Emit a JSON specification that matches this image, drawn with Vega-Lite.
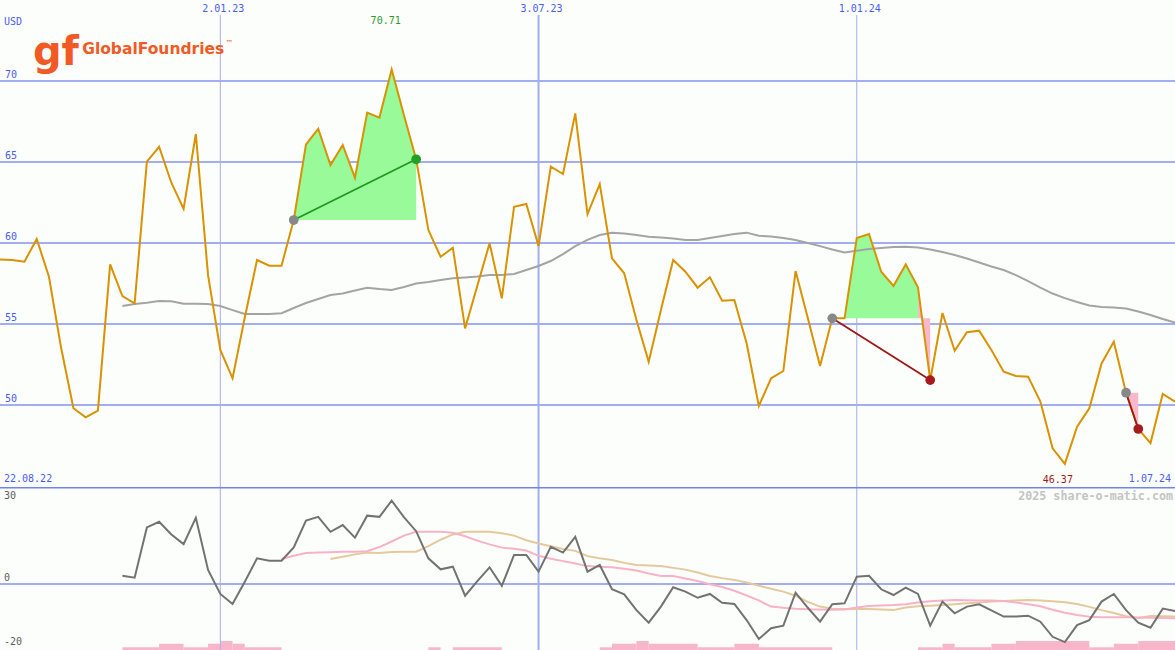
{
"$schema": "https://vega.github.io/schema/vega-lite/v6.json",
"background": "#fcfefc",
"padding": 0,
"spacing": 0,
"bounds": "flush",
"config": {"view": {"stroke": null}, "concat": {"spacing": 0}},
"datasets": {
"w": [
{"d":"2022-08-29","close":58.99},
{"d":"2022-09-05","close":58.95},
{"d":"2022-09-12","close":58.85},
{"d":"2022-09-19","close":60.25},
{"d":"2022-09-26","close":57.92},
{"d":"2022-10-03","close":53.5},
{"d":"2022-10-10","close":49.8},
{"d":"2022-10-17","close":49.24},
{"d":"2022-10-24","close":49.65},
{"d":"2022-10-31","close":58.68},
{"d":"2022-11-07","close":56.73,"ma":56.11,"osc":2.8},
{"d":"2022-11-14","close":56.28,"ma":56.23,"osc":2.15},
{"d":"2022-11-21","close":65.02,"ma":56.31,"osc":19.3},
{"d":"2022-11-28","close":65.94,"ma":56.42,"osc":21.2},
{"d":"2022-12-05","close":63.72,"ma":56.4,"osc":16.9},
{"d":"2022-12-12","close":62.1,"ma":56.25,"osc":13.6},
{"d":"2022-12-19","close":66.73,"ma":56.25,"osc":22.6},
{"d":"2022-12-26","close":58.0,"ma":56.23,"osc":4.8},
{"d":"2023-01-02","close":53.4,"ma":56.11,"osc":-3.4},
{"d":"2023-01-09","close":51.65,"ma":55.86,"osc":-6.8},
{"d":"2023-01-16","close":55.4,"ma":55.62,"osc":0.8},
{"d":"2023-01-23","close":58.95,"ma":55.62,"osc":8.75},
{"d":"2023-01-30","close":58.6,"ma":55.62,"osc":7.95},
{"d":"2023-02-06","close":58.6,"ma":55.67,"osc":7.95,"s1":8.5},
{"d":"2023-02-13","close":61.42,"ma":55.99,"osc":12.5,"s1":9.65},
{"d":"2023-02-20","close":66.09,"ma":56.3,"osc":21.6,"s1":10.6},
{"d":"2023-02-27","close":67.05,"ma":56.54,"osc":22.9,"s1":10.7},
{"d":"2023-03-06","close":64.81,"ma":56.79,"osc":17.8,"s1":10.85,"s2":8.5},
{"d":"2023-03-13","close":66.05,"ma":56.88,"osc":20.1,"s1":11.0,"s2":9.3},
{"d":"2023-03-20","close":64.03,"ma":57.07,"osc":15.8,"s1":11.0,"s2":10.1},
{"d":"2023-03-27","close":68.05,"ma":57.24,"osc":23.3,"s1":11.2,"s2":10.7},
{"d":"2023-04-03","close":67.74,"ma":57.16,"osc":22.9,"s1":12.6,"s2":10.6},
{"d":"2023-04-10","close":70.71,"ma":57.1,"osc":28.4,"s1":14.5,"s2":10.9},
{"d":"2023-04-17","close":67.9,"ma":57.28,"osc":22.8,"s1":16.5,"s2":11.0},
{"d":"2023-04-24","close":65.17,"ma":57.5,"osc":18.0,"s1":17.8,"s2":11.0},
{"d":"2023-05-01","close":60.8,"ma":57.59,"osc":8.75,"s1":17.8,"s2":12.9},
{"d":"2023-05-08","close":59.15,"ma":57.72,"osc":5.0,"s1":17.8,"s2":15.1},
{"d":"2023-05-15","close":59.71,"ma":57.82,"osc":5.9,"s1":17.5,"s2":16.9},
{"d":"2023-05-22","close":54.73,"ma":57.87,"osc":-4.0,"s1":16.3,"s2":17.8},
{"d":"2023-05-29","close":57.36,"ma":57.93,"osc":1.0,"s1":14.8,"s2":17.8},
{"d":"2023-06-05","close":59.98,"ma":58.02,"osc":5.7,"s1":13.5,"s2":17.8},
{"d":"2023-06-12","close":56.59,"ma":58.02,"osc":-0.6,"s1":12.4,"s2":17.3},
{"d":"2023-06-19","close":62.24,"ma":58.09,"osc":9.9,"s1":12.0,"s2":16.5},
{"d":"2023-06-26","close":62.41,"ma":58.33,"osc":9.9,"s1":11.4,"s2":14.9},
{"d":"2023-07-03","close":59.81,"ma":58.58,"osc":4.2,"s1":9.6,"s2":13.8},
{"d":"2023-07-10","close":64.71,"ma":58.89,"osc":12.7,"s1":8.6,"s2":12.9},
{"d":"2023-07-17","close":64.26,"ma":59.32,"osc":10.7,"s1":7.8,"s2":11.9},
{"d":"2023-07-24","close":68.0,"ma":59.81,"osc":16.1,"s1":7.0,"s2":11.3},
{"d":"2023-07-31","close":61.79,"ma":60.19,"osc":4.2,"s1":6.1,"s2":9.5},
{"d":"2023-08-07","close":63.63,"ma":60.49,"osc":6.5,"s1":5.9,"s2":8.8},
{"d":"2023-08-14","close":59.05,"ma":60.64,"osc":-1.8,"s1":5.7,"s2":8.2},
{"d":"2023-08-21","close":58.13,"ma":60.59,"osc":-3.5,"s1":5.2,"s2":7.2},
{"d":"2023-08-28","close":55.25,"ma":60.49,"osc":-8.9,"s1":4.6,"s2":6.45},
{"d":"2023-09-04","close":52.67,"ma":60.39,"osc":-13.2,"s1":3.6,"s2":6.3},
{"d":"2023-09-11","close":55.86,"ma":60.34,"osc":-7.7,"s1":2.7,"s2":6.1},
{"d":"2023-09-18","close":58.95,"ma":60.28,"osc":-1.1,"s1":2.7,"s2":5.5},
{"d":"2023-09-25","close":58.23,"ma":60.19,"osc":-2.6,"s1":1.9,"s2":4.9},
{"d":"2023-10-02","close":57.24,"ma":60.19,"osc":-4.7,"s1":1.0,"s2":3.9},
{"d":"2023-10-09","close":57.88,"ma":60.31,"osc":-3.4,"s1":-0.1,"s2":2.7},
{"d":"2023-10-16","close":56.44,"ma":60.43,"osc":-6.4,"s1":-1.0,"s2":2.0},
{"d":"2023-10-23","close":56.48,"ma":60.56,"osc":-6.8,"s1":-2.3,"s2":1.4},
{"d":"2023-10-30","close":53.81,"ma":60.64,"osc":-12.3,"s1":-3.9,"s2":0.5},
{"d":"2023-11-06","close":49.94,"ma":60.45,"osc":-18.75,"s1":-5.6,"s2":-0.6},
{"d":"2023-11-13","close":51.65,"ma":60.4,"osc":-15.1,"s1":-7.7,"s2":-1.6},
{"d":"2023-11-20","close":52.1,"ma":60.31,"osc":-14.2,"s1":-8.1,"s2":-2.6},
{"d":"2023-11-27","close":58.27,"ma":60.19,"osc":-2.95,"s1":-8.4,"s2":-4.0},
{"d":"2023-12-04","close":55.37,"ma":60.0,"osc":-8.1,"s1":-8.6,"s2":-6.1},
{"d":"2023-12-11","close":52.41,"ma":59.81,"osc":-12.85,"s1":-8.7,"s2":-7.7},
{"d":"2023-12-18","close":55.35,"ma":59.6,"osc":-6.9,"s1":-8.8,"s2":-8.4},
{"d":"2023-12-25","close":55.35,"ma":59.41,"osc":-6.6,"s1":-8.7,"s2":-8.5},
{"d":"2024-01-01","close":60.31,"ma":59.52,"osc":2.5,"s1":-8.0,"s2":-8.5},
{"d":"2024-01-08","close":60.56,"ma":59.63,"osc":2.8,"s1":-7.5,"s2":-8.5},
{"d":"2024-01-15","close":58.23,"ma":59.69,"osc":-1.8,"s1":-7.3,"s2":-8.7},
{"d":"2024-01-22","close":57.35,"ma":59.75,"osc":-3.75,"s1":-7.2,"s2":-8.9},
{"d":"2024-01-29","close":58.68,"ma":59.77,"osc":-1.25,"s1":-6.9,"s2":-8.0},
{"d":"2024-02-05","close":57.27,"ma":59.72,"osc":-3.4,"s1":-6.3,"s2":-7.6},
{"d":"2024-02-12","close":51.54,"ma":59.6,"osc":-14.2,"s1":-5.9,"s2":-7.4},
{"d":"2024-02-19","close":55.68,"ma":59.44,"osc":-6.0,"s1":-5.6,"s2":-7.2},
{"d":"2024-02-26","close":53.35,"ma":59.26,"osc":-10.0,"s1":-5.45,"s2":-6.9},
{"d":"2024-03-04","close":54.49,"ma":59.04,"osc":-7.7,"s1":-5.5,"s2":-6.6},
{"d":"2024-03-11","close":54.59,"ma":58.8,"osc":-6.9,"s1":-5.6,"s2":-6.3},
{"d":"2024-03-18","close":53.4,"ma":58.55,"osc":-9.0,"s1":-5.6,"s2":-6.0},
{"d":"2024-03-25","close":52.06,"ma":58.33,"osc":-11.1,"s1":-5.8,"s2":-5.8},
{"d":"2024-04-01","close":51.79,"ma":58.02,"osc":-11.1,"s1":-6.3,"s2":-5.6},
{"d":"2024-04-08","close":51.75,"ma":57.65,"osc":-10.8,"s1":-6.9,"s2":-5.45},
{"d":"2024-04-15","close":50.21,"ma":57.25,"osc":-12.85,"s1":-7.6,"s2":-5.6},
{"d":"2024-04-22","close":47.33,"ma":56.88,"osc":-18.0,"s1":-8.8,"s2":-5.9},
{"d":"2024-04-29","close":46.37,"ma":56.6,"osc":-19.8,"s1":-9.8,"s2":-6.2},
{"d":"2024-05-06","close":48.67,"ma":56.36,"osc":-14.0,"s1":-10.6,"s2":-6.8},
{"d":"2024-05-13","close":49.8,"ma":56.14,"osc":-12.3,"s1":-11.2,"s2":-7.8},
{"d":"2024-05-20","close":52.57,"ma":56.05,"osc":-6.0,"s1":-11.35,"s2":-8.9},
{"d":"2024-05-27","close":53.91,"ma":56.02,"osc":-3.4,"s1":-11.35,"s2":-9.9},
{"d":"2024-06-03","close":50.76,"ma":55.96,"osc":-8.9,"s1":-11.35,"s2":-11.0},
{"d":"2024-06-10","close":48.52,"ma":55.77,"osc":-13.2,"s1":-11.4,"s2":-11.6},
{"d":"2024-06-17","close":47.65,"ma":55.56,"osc":-14.9,"s1":-11.5,"s2":-10.9},
{"d":"2024-06-24","close":50.69,"ma":55.31,"osc":-8.4,"s1":-11.6,"s2":-11.0},
{"d":"2024-07-01","close":50.21,"ma":55.09,"osc":-9.2,"s1":-11.7,"s2":-11.1}
],
"areas": [
{"d":"2023-02-13","p":61.42,"base":61.42,"seg":"A","kind":"gain"},
{"d":"2023-02-20","p":66.09,"base":61.42,"seg":"A","kind":"gain"},
{"d":"2023-02-27","p":67.05,"base":61.42,"seg":"A","kind":"gain"},
{"d":"2023-03-06","p":64.81,"base":61.42,"seg":"A","kind":"gain"},
{"d":"2023-03-13","p":66.05,"base":61.42,"seg":"A","kind":"gain"},
{"d":"2023-03-20","p":64.03,"base":61.42,"seg":"A","kind":"gain"},
{"d":"2023-03-27","p":68.05,"base":61.42,"seg":"A","kind":"gain"},
{"d":"2023-04-03","p":67.74,"base":61.42,"seg":"A","kind":"gain"},
{"d":"2023-04-10","p":70.71,"base":61.42,"seg":"A","kind":"gain"},
{"d":"2023-04-17","p":67.9,"base":61.42,"seg":"A","kind":"gain"},
{"d":"2023-04-24","p":65.17,"base":61.42,"seg":"A","kind":"gain"},
{"d":"2023-12-18","p":55.35,"base":55.35,"seg":"B","kind":"gain"},
{"d":"2023-12-25","p":55.35,"base":55.35,"seg":"B","kind":"gain"},
{"d":"2024-01-01","p":60.31,"base":55.35,"seg":"B","kind":"gain"},
{"d":"2024-01-08","p":60.56,"base":55.35,"seg":"B","kind":"gain"},
{"d":"2024-01-15","p":58.23,"base":55.35,"seg":"B","kind":"gain"},
{"d":"2024-01-22","p":57.35,"base":55.35,"seg":"B","kind":"gain"},
{"d":"2024-01-29","p":58.68,"base":55.35,"seg":"B","kind":"gain"},
{"d":"2024-02-05","p":57.27,"base":55.35,"seg":"B","kind":"gain"},
{"d":"2024-02-05","p":57.27,"base":55.35,"seg":"C","kind":"loss"},
{"d":"2024-02-12","p":51.54,"base":55.35,"seg":"C","kind":"loss"},
{"d":"2024-06-03","p":50.76,"base":50.76,"seg":"D","kind":"loss"},
{"d":"2024-06-10","p":48.52,"base":50.76,"seg":"D","kind":"loss"}
],
"signals": [
{"d":"2023-02-13","p":61.42,"seg":"A","kind":"gain"},
{"d":"2023-04-24","p":65.17,"seg":"A","kind":"gain"},
{"d":"2023-12-18","p":55.35,"seg":"B","kind":"loss"},
{"d":"2024-02-12","p":51.54,"seg":"B","kind":"loss"},
{"d":"2024-06-03","p":50.76,"seg":"D","kind":"loss"},
{"d":"2024-06-10","p":48.52,"seg":"D","kind":"loss"}
],
"markers": [
{"d":"2023-02-13","p":61.42,"kind":"start"},
{"d":"2023-04-24","p":65.17,"kind":"gain"},
{"d":"2023-12-18","p":55.35,"kind":"start"},
{"d":"2024-02-12","p":51.54,"kind":"loss"},
{"d":"2024-06-03","p":50.76,"kind":"start"},
{"d":"2024-06-10","p":48.52,"kind":"loss"}
],
"bars": [
{"d":"2022-11-07","e":"2022-11-28","h":1},
{"d":"2022-11-28","e":"2022-12-12","h":2.33},
{"d":"2022-12-12","e":"2022-12-26","h":1},
{"d":"2022-12-26","e":"2023-01-02","h":2.33},
{"d":"2023-01-02","e":"2023-01-09","h":3.33},
{"d":"2023-01-09","e":"2023-01-16","h":2.33},
{"d":"2023-01-16","e":"2023-02-06","h":1},
{"d":"2023-05-01","e":"2023-05-08","h":1},
{"d":"2023-05-15","e":"2023-06-12","h":1},
{"d":"2023-08-07","e":"2023-08-14","h":1},
{"d":"2023-08-14","e":"2023-08-28","h":2.33},
{"d":"2023-08-28","e":"2023-09-04","h":3.33},
{"d":"2023-09-04","e":"2023-10-02","h":2.33},
{"d":"2023-10-02","e":"2023-10-23","h":1},
{"d":"2023-10-23","e":"2023-11-06","h":2.33},
{"d":"2023-11-06","e":"2023-12-18","h":1},
{"d":"2024-02-05","e":"2024-02-19","h":1},
{"d":"2024-02-19","e":"2024-02-26","h":2.33},
{"d":"2024-02-26","e":"2024-03-18","h":1},
{"d":"2024-03-18","e":"2024-04-01","h":2.33},
{"d":"2024-04-01","e":"2024-05-13","h":3.33},
{"d":"2024-05-13","e":"2024-05-27","h":1},
{"d":"2024-05-27","e":"2024-06-10","h":2.33},
{"d":"2024-06-10","e":"2024-07-01","h":3.33}
],
"hgrid": [{"v":50},{"v":55},{"v":60},{"v":65},{"v":70}],
"ylabels": [{"d":"2022-08-29","t":"50","v":50},{"d":"2022-08-29","t":"55","v":55},{"d":"2022-08-29","t":"60","v":60},{"d":"2022-08-29","t":"65","v":65},{"d":"2022-08-29","t":"70","v":70}],
"vthin": [{"d":"2023-01-02"},{"d":"2024-01-01"}],
"vthick": [{"d":"2023-07-03"}],
"dates": [{"d":"2023-01-02","t":"2.01.23"},{"d":"2023-07-03","t":"3.07.23"},{"d":"2024-01-01","t":"1.01.24"}]
},
"vconcat": [
{
"width": 1175, "height": 487,
"resolve": {"scale": {"color": "independent"}},
"layer": [
{"data":{"name":"hgrid"},"mark":{"type":"rule","color":"#a3aef0","strokeWidth":2,"clip":true},
 "encoding":{"y":{"field":"v","type":"quantitative","scale":{"domain":[44.94,75],"nice":false,"zero":false},"axis":null}}},
{"data":{"name":"vthin"},"mark":{"type":"rule","color":"#a6aee8","strokeWidth":1,"clip":true},
 "encoding":{"x":{"field":"d","type":"temporal","scale":{"type":"utc","domain":[{"year":2022,"month":8,"date":29,"utc":true},{"year":2024,"month":7,"date":1,"utc":true}]},"axis":null},
 "y":{"datum":74.07,"type":"quantitative","scale":{"domain":[44.94,75],"nice":false,"zero":false},"axis":null},"y2":{"datum":44.94}}},
{"data":{"name":"vthick"},"mark":{"type":"rule","color":"#a3aef0","strokeWidth":2,"clip":true},
 "encoding":{"x":{"field":"d","type":"temporal","scale":{"type":"utc","domain":[{"year":2022,"month":8,"date":29,"utc":true},{"year":2024,"month":7,"date":1,"utc":true}]},"axis":null},
 "y":{"datum":74.07,"type":"quantitative","scale":{"domain":[44.94,75],"nice":false,"zero":false},"axis":null},"y2":{"datum":44.94}}},
{"data":{"name":"areas"},"mark":{"type":"area","opacity":1,"clip":true},
 "encoding":{"x":{"field":"d","type":"temporal","scale":{"type":"utc","domain":[{"year":2022,"month":8,"date":29,"utc":true},{"year":2024,"month":7,"date":1,"utc":true}]},"axis":null},
 "y":{"field":"p","type":"quantitative","stack":null,"scale":{"domain":[44.94,75],"nice":false,"zero":false},"axis":null},"y2":{"field":"base"},
 "color":{"field":"kind","type":"nominal","scale":{"domain":["gain","loss"],"range":["#98fa98","#f8b8cc"]},"legend":null},
 "detail":{"field":"seg"}}},
{"data":{"name":"w"},"mark":{"type":"line","color":"#a4a4a4","strokeWidth":2,"clip":true},
 "encoding":{"x":{"field":"d","type":"temporal","scale":{"type":"utc","domain":[{"year":2022,"month":8,"date":29,"utc":true},{"year":2024,"month":7,"date":1,"utc":true}]},"axis":null},
 "y":{"field":"ma","type":"quantitative","scale":{"domain":[44.94,75],"nice":false,"zero":false},"axis":null}}},
{"data":{"name":"w"},"mark":{"type":"line","color":"#d99200","strokeWidth":2,"clip":true},
 "encoding":{"x":{"field":"d","type":"temporal","scale":{"type":"utc","domain":[{"year":2022,"month":8,"date":29,"utc":true},{"year":2024,"month":7,"date":1,"utc":true}]},"axis":null},
 "y":{"field":"close","type":"quantitative","scale":{"domain":[44.94,75],"nice":false,"zero":false},"axis":null}}},
{"data":{"name":"signals"},"mark":{"type":"line","strokeWidth":1.8,"clip":true},
 "encoding":{"x":{"field":"d","type":"temporal","scale":{"type":"utc","domain":[{"year":2022,"month":8,"date":29,"utc":true},{"year":2024,"month":7,"date":1,"utc":true}]},"axis":null},
 "y":{"field":"p","type":"quantitative","scale":{"domain":[44.94,75],"nice":false,"zero":false},"axis":null},
 "color":{"field":"kind","type":"nominal","scale":{"domain":["gain","loss"],"range":["#1e9a1e","#9e1616"]},"legend":null},
 "detail":{"field":"seg"}}},
{"data":{"name":"markers"},"mark":{"type":"circle","size":95,"opacity":1},
 "encoding":{"x":{"field":"d","type":"temporal","scale":{"type":"utc","domain":[{"year":2022,"month":8,"date":29,"utc":true},{"year":2024,"month":7,"date":1,"utc":true}]},"axis":null},
 "y":{"field":"p","type":"quantitative","scale":{"domain":[44.94,75],"nice":false,"zero":false},"axis":null},
 "color":{"field":"kind","type":"nominal","scale":{"domain":["start","gain","loss"],"range":["#888888","#22a022","#a51a1a"]},"legend":null}}},
{"data":{"name":"ylabels"},"mark":{"type":"text","align":"left","baseline":"alphabetic","dx":5,"dy":-3,"font":"DejaVu Sans Mono","fontSize":10,"color":"#4a5cf5"},
 "encoding":{"x":{"field":"d","type":"temporal","scale":{"type":"utc","domain":[{"year":2022,"month":8,"date":29,"utc":true},{"year":2024,"month":7,"date":1,"utc":true}]},"axis":null},
 "y":{"field":"v","type":"quantitative","scale":{"domain":[44.94,75],"nice":false,"zero":false},"axis":null},"text":{"field":"t"}}},
{"data":{"name":"dates"},"mark":{"type":"text","align":"center","baseline":"middle","dx":3,"font":"DejaVu Sans Mono","fontSize":10,"color":"#4a5cf5"},
 "encoding":{"x":{"field":"d","type":"temporal","scale":{"type":"utc","domain":[{"year":2022,"month":8,"date":29,"utc":true},{"year":2024,"month":7,"date":1,"utc":true}]},"axis":null},
 "y":{"datum":74.46,"type":"quantitative","scale":{"domain":[44.94,75],"nice":false,"zero":false},"axis":null},"text":{"field":"t"}}},
{"data":{"values":[{"d":"2022-08-29","t":"USD","p":73.66},{"d":"2022-08-29","t":"22.08.22","p":45.44}]},
 "mark":{"type":"text","align":"left","baseline":"middle","dx":4,"font":"DejaVu Sans Mono","fontSize":10,"color":"#4a5cf5"},
 "encoding":{"x":{"field":"d","type":"temporal","scale":{"type":"utc","domain":[{"year":2022,"month":8,"date":29,"utc":true},{"year":2024,"month":7,"date":1,"utc":true}]},"axis":null},
 "y":{"field":"p","type":"quantitative","scale":{"domain":[44.94,75],"nice":false,"zero":false},"axis":null},"text":{"field":"t"}}},
{"data":{"values":[{"d":"2024-07-01","t":"1.07.24","p":45.44}]},
 "mark":{"type":"text","align":"right","baseline":"middle","dx":-4,"font":"DejaVu Sans Mono","fontSize":10,"color":"#4a5cf5"},
 "encoding":{"x":{"field":"d","type":"temporal","scale":{"type":"utc","domain":[{"year":2022,"month":8,"date":29,"utc":true},{"year":2024,"month":7,"date":1,"utc":true}]},"axis":null},
 "y":{"field":"p","type":"quantitative","scale":{"domain":[44.94,75],"nice":false,"zero":false},"axis":null},"text":{"field":"t"}}},
{"data":{"values":[{"d":"2023-04-10","t":"70.71","p":73.73}]},
 "mark":{"type":"text","align":"center","baseline":"middle","dx":-6,"font":"DejaVu Sans Mono","fontSize":10,"color":"#2a9a2a"},
 "encoding":{"x":{"field":"d","type":"temporal","scale":{"type":"utc","domain":[{"year":2022,"month":8,"date":29,"utc":true},{"year":2024,"month":7,"date":1,"utc":true}]},"axis":null},
 "y":{"field":"p","type":"quantitative","scale":{"domain":[44.94,75],"nice":false,"zero":false},"axis":null},"text":{"field":"t"}}},
{"data":{"values":[{"d":"2024-04-29","t":"46.37","p":45.4}]},
 "mark":{"type":"text","align":"center","baseline":"middle","dx":-7,"font":"DejaVu Sans Mono","fontSize":10,"color":"#a01c1c"},
 "encoding":{"x":{"field":"d","type":"temporal","scale":{"type":"utc","domain":[{"year":2022,"month":8,"date":29,"utc":true},{"year":2024,"month":7,"date":1,"utc":true}]},"axis":null},
 "y":{"field":"p","type":"quantitative","scale":{"domain":[44.94,75],"nice":false,"zero":false},"axis":null},"text":{"field":"t"}}},
{"data":{"values":[{"d":"2022-10-15","t":"GlobalFoundries","p":71.67}]},
 "mark":{"type":"text","align":"left","baseline":"alphabetic","font":"DejaVu Sans","fontWeight":"bold","fontSize":15.5,"color":"#f15a24"},
 "encoding":{"x":{"field":"d","type":"temporal","scale":{"type":"utc","domain":[{"year":2022,"month":8,"date":29,"utc":true},{"year":2024,"month":7,"date":1,"utc":true}]},"axis":null},
 "y":{"field":"p","type":"quantitative","scale":{"domain":[44.94,75],"nice":false,"zero":false},"axis":null},"text":{"field":"t"}}},
{"data":{"values":[{"d":"2023-01-05","t":"™","p":72.28}]},
 "mark":{"type":"text","align":"left","baseline":"middle","font":"DejaVu Sans","fontSize":8,"color":"#f15a24"},
 "encoding":{"x":{"field":"d","type":"temporal","scale":{"type":"utc","domain":[{"year":2022,"month":8,"date":29,"utc":true},{"year":2024,"month":7,"date":1,"utc":true}]},"axis":null},
 "y":{"field":"p","type":"quantitative","scale":{"domain":[44.94,75],"nice":false,"zero":false},"axis":null},"text":{"field":"t"}}},
{"data":{"values":[{"d":"2022-09-30","t":"gf","p":71.73}]},
 "mark":{"type":"text","align":"center","baseline":"middle","font":"DejaVu Sans","fontWeight":"bold","fontSize":40,"letterSpacing":-3,"color":"#f15a24"},
 "encoding":{"x":{"field":"d","type":"temporal","scale":{"type":"utc","domain":[{"year":2022,"month":8,"date":29,"utc":true},{"year":2024,"month":7,"date":1,"utc":true}]},"axis":null},
 "y":{"field":"p","type":"quantitative","scale":{"domain":[44.94,75],"nice":false,"zero":false},"axis":null},"text":{"field":"t"}}}
]
},
{
"width": 1175, "height": 163,
"resolve": {"scale": {"y": "independent"}},
"layer": [
{"data":{"name":"bars"},"mark":{"type":"rect","color":"#f8b6ca","clip":true},
 "encoding":{"x":{"field":"d","type":"temporal","scale":{"type":"utc","domain":[{"year":2022,"month":8,"date":29,"utc":true},{"year":2024,"month":7,"date":1,"utc":true}]},"axis":null},
 "x2":{"field":"e"},
 "y":{"field":"h","type":"quantitative","scale":{"domain":[0,60.4],"nice":false,"zero":true},"axis":null},"y2":{"datum":0}}},
{"layer": [
{"data":{"name":"vthin"},"mark":{"type":"rule","color":"#a6aee8","strokeWidth":1,"clip":true},
 "encoding":{"x":{"field":"d","type":"temporal","scale":{"type":"utc","domain":[{"year":2022,"month":8,"date":29,"utc":true},{"year":2024,"month":7,"date":1,"utc":true}]},"axis":null}}},
{"data":{"name":"vthick"},"mark":{"type":"rule","color":"#a3aef0","strokeWidth":2,"clip":true},
 "encoding":{"x":{"field":"d","type":"temporal","scale":{"type":"utc","domain":[{"year":2022,"month":8,"date":29,"utc":true},{"year":2024,"month":7,"date":1,"utc":true}]},"axis":null}}},
{"data":{"values":[{"v":32.9}]},"mark":{"type":"rule","color":"#7483e8","strokeWidth":2,"clip":true},
 "encoding":{"y":{"field":"v","type":"quantitative","scale":{"domain":[-22.5,33.07],"nice":false,"zero":false},"axis":null}}},
{"data":{"values":[{"v":0}]},"mark":{"type":"rule","color":"#a3aef0","strokeWidth":2,"clip":true},
 "encoding":{"y":{"field":"v","type":"quantitative","scale":{"domain":[-22.5,33.07],"nice":false,"zero":false},"axis":null}}},
{"data":{"name":"w"},"mark":{"type":"line","color":"#e4c99c","strokeWidth":2,"clip":true},
 "encoding":{"x":{"field":"d","type":"temporal","scale":{"type":"utc","domain":[{"year":2022,"month":8,"date":29,"utc":true},{"year":2024,"month":7,"date":1,"utc":true}]},"axis":null},
 "y":{"field":"s2","type":"quantitative","scale":{"domain":[-22.5,33.07],"nice":false,"zero":false},"axis":null}}},
{"data":{"name":"w"},"mark":{"type":"line","color":"#f8b2c8","strokeWidth":2,"clip":true},
 "encoding":{"x":{"field":"d","type":"temporal","scale":{"type":"utc","domain":[{"year":2022,"month":8,"date":29,"utc":true},{"year":2024,"month":7,"date":1,"utc":true}]},"axis":null},
 "y":{"field":"s1","type":"quantitative","scale":{"domain":[-22.5,33.07],"nice":false,"zero":false},"axis":null}}},
{"data":{"name":"w"},"mark":{"type":"line","color":"#727272","strokeWidth":2,"clip":true},
 "encoding":{"x":{"field":"d","type":"temporal","scale":{"type":"utc","domain":[{"year":2022,"month":8,"date":29,"utc":true},{"year":2024,"month":7,"date":1,"utc":true}]},"axis":null},
 "y":{"field":"osc","type":"quantitative","scale":{"domain":[-22.5,33.07],"nice":false,"zero":false},"axis":null}}},
{"data":{"values":[{"d":"2022-08-29","t":"30","v":30},{"d":"2022-08-29","t":"0","v":2},{"d":"2022-08-29","t":"-20","v":-19.8}]},
 "mark":{"type":"text","align":"left","baseline":"middle","dx":4,"font":"DejaVu Sans Mono","fontSize":10,"color":"#5c5c5c"},
 "encoding":{"x":{"field":"d","type":"temporal","scale":{"type":"utc","domain":[{"year":2022,"month":8,"date":29,"utc":true},{"year":2024,"month":7,"date":1,"utc":true}]},"axis":null},
 "y":{"field":"v","type":"quantitative","scale":{"domain":[-22.5,33.07],"nice":false,"zero":false},"axis":null},"text":{"field":"t"}}},
{"data":{"values":[{"d":"2024-07-01","t":"2025 share-o-matic.com","v":30.1}]},
 "mark":{"type":"text","align":"right","baseline":"middle","dx":-2,"font":"DejaVu Sans Mono","fontWeight":"bold","fontSize":11.7,"color":"#c4c4c4"},
 "encoding":{"x":{"field":"d","type":"temporal","scale":{"type":"utc","domain":[{"year":2022,"month":8,"date":29,"utc":true},{"year":2024,"month":7,"date":1,"utc":true}]},"axis":null},
 "y":{"field":"v","type":"quantitative","scale":{"domain":[-22.5,33.07],"nice":false,"zero":false},"axis":null},"text":{"field":"t"}}}
]}
]
}
]
}
